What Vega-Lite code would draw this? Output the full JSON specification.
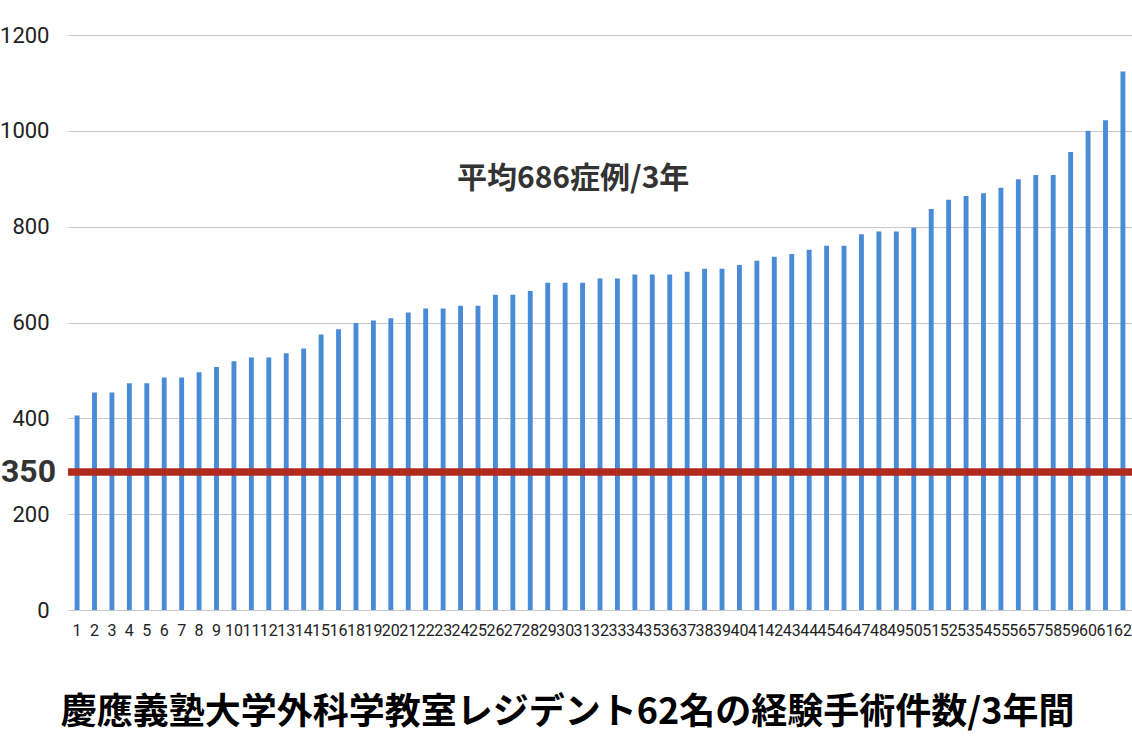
{
  "$schema": "https://vega.github.io/schema/vega-lite/v6.json",
  "autosize": "none",
  "width": 1064,
  "height": 575,
  "padding": {"left": 68, "top": 35, "right": 0, "bottom": 141},
  "background": "white",
  "config": {
    "view": {"stroke": null},
    "font": "Roboto"
  },
  "title": {
    "text": "慶應義塾大学外科学教室レジデント62名の経験手術件数/3年間",
    "orient": "bottom",
    "frame": "bounds",
    "anchor": "middle",
    "font": "Noto Sans CJK JP",
    "fontSize": 36,
    "fontWeight": "bold",
    "color": "#000000",
    "offset": 58
  },
  "datasets": {
    "residents": [
      {"n": "1", "cases": 406}, {"n": "2", "cases": 454}, {"n": "3", "cases": 454},
      {"n": "4", "cases": 473}, {"n": "5", "cases": 473}, {"n": "6", "cases": 485},
      {"n": "7", "cases": 485}, {"n": "8", "cases": 496}, {"n": "9", "cases": 507},
      {"n": "10", "cases": 519}, {"n": "11", "cases": 527}, {"n": "12", "cases": 527},
      {"n": "13", "cases": 536}, {"n": "14", "cases": 546}, {"n": "15", "cases": 575},
      {"n": "16", "cases": 586}, {"n": "18", "cases": 599}, {"n": "19", "cases": 604},
      {"n": "20", "cases": 609}, {"n": "21", "cases": 621}, {"n": "22", "cases": 629},
      {"n": "23", "cases": 629}, {"n": "24", "cases": 635}, {"n": "25", "cases": 635},
      {"n": "26", "cases": 658}, {"n": "27", "cases": 658}, {"n": "28", "cases": 666},
      {"n": "29", "cases": 683}, {"n": "30", "cases": 683}, {"n": "31", "cases": 683},
      {"n": "32", "cases": 692}, {"n": "33", "cases": 692}, {"n": "34", "cases": 700},
      {"n": "35", "cases": 700}, {"n": "36", "cases": 700}, {"n": "37", "cases": 706},
      {"n": "38", "cases": 712}, {"n": "39", "cases": 712}, {"n": "40", "cases": 720},
      {"n": "41", "cases": 729}, {"n": "42", "cases": 737}, {"n": "43", "cases": 743},
      {"n": "44", "cases": 752}, {"n": "45", "cases": 760}, {"n": "46", "cases": 760},
      {"n": "47", "cases": 784}, {"n": "48", "cases": 790}, {"n": "49", "cases": 790},
      {"n": "50", "cases": 798}, {"n": "51", "cases": 837}, {"n": "52", "cases": 856},
      {"n": "53", "cases": 864}, {"n": "54", "cases": 870}, {"n": "55", "cases": 881},
      {"n": "56", "cases": 899}, {"n": "57", "cases": 908}, {"n": "58", "cases": 908},
      {"n": "59", "cases": 956}, {"n": "60", "cases": 1000}, {"n": "61", "cases": 1022},
      {"n": "62", "cases": 1124}
    ],
    "threshold": [{"n": "1", "label": "350", "value": 288}],
    "note": [{"n": "30", "label": "平均686症例/3年", "value": 900}]
  },
  "encoding": {
    "x": {
      "field": "n",
      "type": "ordinal",
      "scale": {
        "domain": ["1","2","3","4","5","6","7","8","9","10","11","12","13","14","15","16","18","19","20","21","22","23","24","25","26","27","28","29","30","31","32","33","34","35","36","37","38","39","40","41","42","43","44","45","46","47","48","49","50","51","52","53","54","55","56","57","58","59","60","61","62"],
        "paddingInner": 0.72,
        "paddingOuter": 0.38
      },
      "axis": {
        "title": null,
        "labelAngle": 0,
        "labelFontSize": 16,
        "labelColor": "#222222",
        "labelPadding": 12,
        "labelOverlap": false,
        "ticks": false,
        "domain": false
      }
    }
  },
  "layer": [
    {
      "data": {"name": "residents"},
      "mark": {"type": "bar", "color": "#4A8BD8"},
      "encoding": {
        "y": {
          "field": "cases",
          "type": "quantitative",
          "scale": {"domain": [0, 1200], "nice": false},
          "axis": {
            "title": null,
            "values": [0, 200, 400, 600, 800, 1000, 1200],
            "format": "d",
            "labelFontSize": 22,
            "labelColor": "#222222",
            "labelPadding": 19,
            "ticks": false,
            "domain": false,
            "gridColor": "#C8C8C8",
            "gridWidth": 1.2
          }
        }
      }
    },
    {
      "data": {"name": "threshold"},
      "mark": {"type": "rule", "color": "#B02A1E", "strokeWidth": 7.5},
      "encoding": {"x": null, "y": {"field": "value", "type": "quantitative"}}
    },
    {
      "data": {"name": "threshold"},
      "mark": {"type": "text", "align": "right", "baseline": "middle", "dx": -21, "fontSize": 32, "fontWeight": "bold", "color": "#333333", "font": "Roboto"},
      "encoding": {
        "y": {"field": "value", "type": "quantitative"},
        "text": {"field": "label"}
      }
    },
    {
      "data": {"name": "note"},
      "mark": {"type": "text", "align": "center", "baseline": "middle", "dx": 8, "fontSize": 30, "fontWeight": "bold", "color": "#333333", "font": "Noto Sans CJK JP"},
      "encoding": {
        "y": {"field": "value", "type": "quantitative"},
        "text": {"field": "label"}
      }
    }
  ]
}
